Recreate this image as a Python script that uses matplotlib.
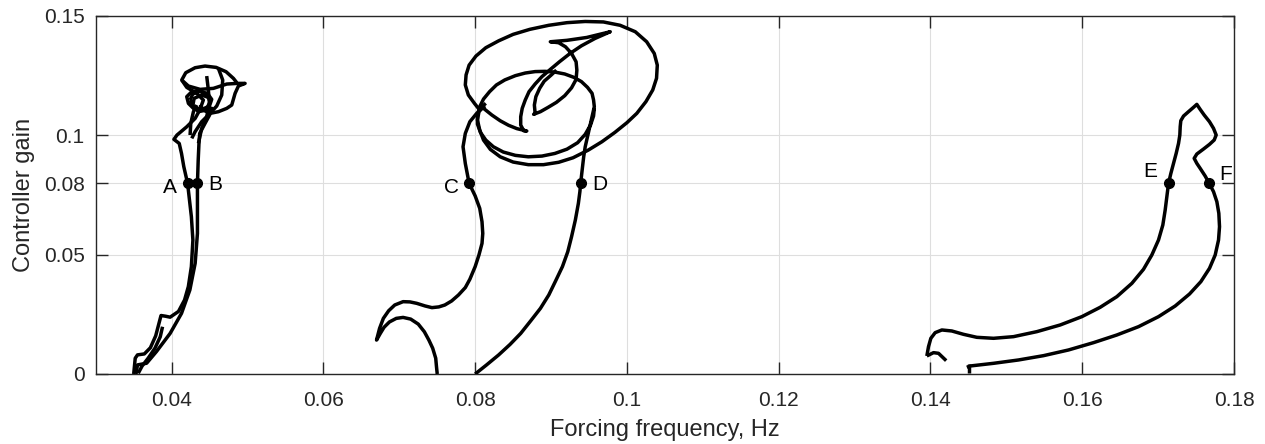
import numpy as np
import matplotlib
matplotlib.use("Agg")
import matplotlib.pyplot as plt

plt.rcParams['font.family'] = ['Liberation Sans', 'DejaVu Sans']

# stability boundary branches, (forcing frequency [Hz], controller gain)
# low-frequency branch through A and B
ab_left = [(0.0350, 0.0000), (0.0352, 0.0066), (0.0355, 0.0080), (0.0364, 0.0084),
           (0.0372, 0.0110), (0.0379, 0.0160), (0.0386, 0.0245), (0.0392, 0.0242),
           (0.0398, 0.0238), (0.0409, 0.0262), (0.0417, 0.0310), (0.0422, 0.0366),
           (0.0426, 0.0450), (0.0428, 0.0561), (0.0426, 0.0659), (0.0423, 0.0743),
           (0.0421, 0.0799), (0.0416, 0.0869), (0.0413, 0.0924), (0.0410, 0.0966),
           (0.0403, 0.0983), (0.0407, 0.1001), (0.0420, 0.1036), (0.0431, 0.1071),
           (0.0437, 0.1106), (0.04418, 0.11478), (0.04331, 0.11757), (0.04199, 0.12009),
           (0.04133, 0.12316), (0.04186, 0.12623), (0.04309, 0.12832), (0.04440, 0.12902),
           (0.04586, 0.12846), (0.04717, 0.12665), (0.04814, 0.12386), (0.04866, 0.12176),
           (0.04968, 0.12176), (0.04880, 0.12065), (0.04836, 0.11757), (0.04792, 0.11269),
           (0.04726, 0.11129), (0.04616, 0.10989), (0.04506, 0.10920), (0.04418, 0.11059),
           (0.04375, 0.11269)]
ab_right = [(0.0353, 0.0000), (0.0355, 0.0038), (0.0367, 0.0045), (0.0380, 0.0094),
            (0.0398, 0.0170), (0.0413, 0.0254), (0.0424, 0.0352), (0.0431, 0.0464),
            (0.0434, 0.0589), (0.0434, 0.0701), (0.0434, 0.0799), (0.0435, 0.0896),
            (0.0436, 0.0966), (0.0437, 0.1008), (0.0444, 0.1050), (0.0450, 0.1085),
            (0.0453, 0.1120)]
ab_spur = [(0.0356, 0.0003), (0.0361, 0.0033), (0.0369, 0.0066), (0.0378, 0.0108),
           (0.0385, 0.0156), (0.0388, 0.0198)]
ab_cap = [(0.04133, 0.12316), (0.04221, 0.12065), (0.04375, 0.11925), (0.04550, 0.11967),
          (0.04726, 0.12148), (0.04866, 0.12176)]
ab_curl = [(0.04309, 0.11059), (0.04221, 0.11338), (0.04199, 0.11618), (0.04265, 0.11827),
           (0.04375, 0.11869), (0.04471, 0.11688), (0.04506, 0.11408), (0.04454, 0.11059),
           (0.04353, 0.10989), (0.04278, 0.11227), (0.04296, 0.11548), (0.04396, 0.11688),
           (0.04484, 0.11590)]
ab_ring = [(0.04243, 0.11478), (0.04278, 0.11729), (0.04366, 0.11841), (0.04471, 0.11757),
           (0.04528, 0.11506), (0.04498, 0.11227), (0.04401, 0.11087), (0.04296, 0.11171),
           (0.04243, 0.11478)]
ab_stem = [(0.04462, 0.12483), (0.04484, 0.11897), (0.04498, 0.11338), (0.04462, 0.10780),
           (0.04396, 0.10291), (0.04353, 0.09663)]
ab_arc = [(0.04616, 0.12805), (0.04673, 0.12316), (0.04660, 0.11688), (0.04594, 0.11227),
          (0.04484, 0.10850), (0.04396, 0.10570), (0.04309, 0.10151), (0.04265, 0.09872)]
ab_tail = [(0.04243, 0.10012), (0.04252, 0.10501), (0.04287, 0.10989), (0.04331, 0.11269)]

# mid-frequency branch through C and D
cd_right = [(0.0800, 0.0000), (0.0815, 0.0038), (0.0831, 0.0080), (0.0846, 0.0124),
            (0.0860, 0.0170), (0.0873, 0.0222), (0.0886, 0.0275), (0.0897, 0.0331),
            (0.0906, 0.0390), (0.0915, 0.0450), (0.0922, 0.0512), (0.0927, 0.0575),
            (0.0932, 0.0645), (0.0936, 0.0715), (0.0938, 0.0764), (0.0939, 0.0799),
            (0.0941, 0.0855), (0.0943, 0.0910), (0.0945, 0.0952), (0.0948, 0.0994),
            (0.0951, 0.1036), (0.0954, 0.1078), (0.0957, 0.1120), (0.0956, 0.1148),
            (0.0954, 0.1176), (0.0948, 0.1201), (0.0940, 0.1225), (0.0930, 0.1243),
            (0.0918, 0.1257), (0.0905, 0.1265), (0.0892, 0.1268), (0.0879, 0.1267),
            (0.0866, 0.1261), (0.0853, 0.1250), (0.0839, 0.1232), (0.0828, 0.1211),
            (0.0819, 0.1183), (0.0811, 0.1152), (0.0806, 0.1120), (0.0803, 0.1085),
            (0.0803, 0.1047), (0.0807, 0.1012), (0.0814, 0.0980), (0.0824, 0.0952),
            (0.0837, 0.0930), (0.0853, 0.0916), (0.0870, 0.0910), (0.0888, 0.0913),
            (0.0905, 0.0924), (0.0921, 0.0942), (0.0935, 0.0969), (0.0945, 0.1004),
            (0.0952, 0.1043), (0.0956, 0.1081), (0.0957, 0.1113)]
cd_left = [(0.0750, 0.0000), (0.0749, 0.0031), (0.0748, 0.0066), (0.0744, 0.0108),
           (0.0739, 0.0142), (0.0733, 0.0177), (0.0725, 0.0209), (0.0715, 0.0230),
           (0.0705, 0.0237), (0.0696, 0.0233), (0.0687, 0.0218), (0.0680, 0.0196),
           (0.0675, 0.0170), (0.0670, 0.0142), (0.0674, 0.0191), (0.0679, 0.0233),
           (0.0686, 0.0265), (0.0694, 0.0289), (0.0705, 0.0303), (0.0714, 0.0302),
           (0.0723, 0.0296), (0.0734, 0.0285), (0.0743, 0.0278), (0.0752, 0.0281),
           (0.0760, 0.0289), (0.0769, 0.0306), (0.0778, 0.0331), (0.0787, 0.0362),
           (0.0793, 0.0397), (0.0800, 0.0450), (0.0805, 0.0499), (0.0809, 0.0547),
           (0.0810, 0.0589), (0.0809, 0.0638), (0.0806, 0.0694), (0.0800, 0.0746),
           (0.0792, 0.0799), (0.0787, 0.0882), (0.0784, 0.0952), (0.0787, 0.1008),
           (0.0793, 0.1057), (0.0802, 0.1092), (0.0813, 0.1123)]
cd_loop = [(0.0806, 0.1106), (0.0799, 0.1134), (0.0791, 0.1169), (0.0787, 0.1211),
           (0.0788, 0.1253), (0.0792, 0.1294), (0.0801, 0.1332), (0.0814, 0.1367),
           (0.0831, 0.1396), (0.0850, 0.1423), (0.0872, 0.1444), (0.0897, 0.1461),
           (0.0921, 0.1472), (0.0945, 0.1477), (0.0969, 0.1475), (0.0991, 0.1461),
           (0.1011, 0.1434), (0.1026, 0.1392), (0.1036, 0.1343), (0.1040, 0.1294),
           (0.1039, 0.1239), (0.1034, 0.1190), (0.1025, 0.1141), (0.1013, 0.1092),
           (0.1000, 0.1053), (0.0984, 0.1012), (0.0967, 0.0973), (0.0949, 0.0938),
           (0.0929, 0.0906), (0.0910, 0.0887), (0.0890, 0.0877), (0.0870, 0.0877),
           (0.0850, 0.0888), (0.0833, 0.0910), (0.0820, 0.0941), (0.0811, 0.0980),
           (0.0806, 0.1022), (0.0803, 0.1064), (0.0805, 0.1099), (0.0810, 0.1123),
           (0.0814, 0.1134)]
cd_inner = [(0.0811, 0.1113), (0.0822, 0.1085), (0.0833, 0.1061), (0.0844, 0.1042),
            (0.0855, 0.1028), (0.0868, 0.1018), (0.0864, 0.1019), (0.0860, 0.1043),
            (0.0860, 0.1078), (0.0862, 0.1113), (0.0866, 0.1148), (0.0871, 0.1183),
            (0.0879, 0.1215), (0.0888, 0.1246), (0.0899, 0.1276), (0.0911, 0.1308),
            (0.0925, 0.1343), (0.0940, 0.1375), (0.0958, 0.1406), (0.0978, 0.1434),
            (0.0947, 0.1410), (0.0921, 0.1398), (0.0899, 0.1392), (0.0910, 0.1388),
            (0.0919, 0.1371), (0.0927, 0.1343), (0.0933, 0.1308), (0.0934, 0.1273),
            (0.0933, 0.1234), (0.0927, 0.1199), (0.0918, 0.1166), (0.0907, 0.1138),
            (0.0896, 0.1117), (0.0886, 0.1099), (0.0877, 0.1088), (0.0879, 0.1092),
            (0.0878, 0.1127), (0.0880, 0.1162), (0.0885, 0.1197), (0.0891, 0.1227),
            (0.0900, 0.1252), (0.0907, 0.1273)]

# high-frequency branch through E and F
ef_main = [(0.13952, 0.00754), (0.13974, 0.01145), (0.14005, 0.01495), (0.14062, 0.01732),
           (0.14150, 0.01844), (0.14281, 0.01802), (0.14435, 0.01662), (0.14611, 0.01536),
           (0.14831, 0.01495), (0.15094, 0.01564), (0.15402, 0.01774), (0.15709, 0.02053),
           (0.15995, 0.02402), (0.16236, 0.02793), (0.16456, 0.03240), (0.16654, 0.03798),
           (0.16807, 0.04385), (0.16917, 0.04985), (0.17005, 0.05614), (0.17062, 0.06242),
           (0.17093, 0.06870), (0.17115, 0.07429), (0.17137, 0.07987), (0.17168, 0.08406),
           (0.17203, 0.08825), (0.17238, 0.09244), (0.17269, 0.09663), (0.17286, 0.10012),
           (0.17291, 0.10361), (0.17299, 0.10612), (0.17335, 0.10808), (0.17400, 0.10990),
           (0.17466, 0.11171), (0.17510, 0.11297), (0.17554, 0.11087), (0.17607, 0.10850),
           (0.17677, 0.10570), (0.17730, 0.10291), (0.17765, 0.10012), (0.17739, 0.09803),
           (0.17677, 0.09621), (0.17598, 0.09425), (0.17510, 0.09216), (0.17475, 0.09035),
           (0.17510, 0.08825), (0.17554, 0.08616), (0.17620, 0.08294), (0.17673, 0.07987),
           (0.17730, 0.07638), (0.17774, 0.07219), (0.17800, 0.06731), (0.17809, 0.06172),
           (0.17796, 0.05614), (0.17752, 0.04985), (0.17677, 0.04427), (0.17563, 0.03868),
           (0.17414, 0.03352), (0.17225, 0.02849), (0.17005, 0.02402), (0.16742, 0.01983),
           (0.16456, 0.01634), (0.16149, 0.01313), (0.15819, 0.01006), (0.15490, 0.00768),
           (0.15160, 0.00587), (0.14831, 0.00447), (0.14523, 0.00335), (0.14479, 0.00279)]
ef_hook = [(0.13952, 0.00754), (0.14040, 0.00894), (0.14106, 0.00866), (0.14207, 0.00559)]
ef_stub = [(0.14514, 0.00419), (0.14514, 0.00028)]

branches = [ab_left, ab_right, ab_spur, ab_cap, ab_curl, ab_ring, ab_stem, ab_arc, ab_tail,
            cd_right, cd_left, cd_loop, cd_inner, ef_main, ef_hook, ef_stub]

# labelled points on the K = 0.08 line
point_names = ['A', 'B', 'C', 'D', 'E', 'F']
point_freq = [0.0421, 0.0434, 0.0792, 0.0939, 0.1714, 0.1767]
point_gain = [0.08, 0.08, 0.08, 0.08, 0.08, 0.08]
label_offsets = {'A': (-13, -3), 'B': (13, -1), 'C': (-13, -3), 'D': (14, -1),
                 'E': (-13, 8), 'F': (12, 6)}

xticks = [0.04, 0.06, 0.08, 0.10, 0.12, 0.14, 0.16, 0.18]
xticklabels = ['0.04', '0.06', '0.08', '0.1', '0.12', '0.14', '0.16', '0.18']
yticks = [0, 0.05, 0.08, 0.1, 0.15]
yticklabels = ['0', '0.05', '0.08', '0.1', '0.15']

axcol = '#262626'

fig = plt.figure(figsize=(12.65, 4.44), dpi=100)
ax = fig.add_axes([0.0757, 0.1577, 0.8998, 0.8063])

for br in branches:
    f, k = zip(*br)
    ax.plot(f, k, color='k', lw=2.5, solid_joinstyle='round', solid_capstyle='butt',
            zorder=3)

ax.plot(point_freq, point_gain, 'o', color='k', ms=7, zorder=4)
for name, f, k in zip(point_names, point_freq, point_gain):
    ax.annotate(name, (f, k), xytext=label_offsets[name], textcoords='offset points',
                ha='center', va='center', fontsize=15, color='k')

ax.set_xlim(0.03, 0.18)
ax.set_ylim(0, 0.15)
ax.set_xticks(xticks)
ax.set_xticklabels(xticklabels)
ax.set_yticks(yticks)
ax.set_yticklabels(yticklabels)
ax.grid(True, color='#dedede', lw=0.8)
ax.set_axisbelow(True)
ax.tick_params(direction='in', length=8.5, width=1.0, colors=axcol, labelsize=15,
               top=True, right=True)
ax.tick_params(axis='x', pad=12)
ax.tick_params(axis='y', pad=8)
for sp in ax.spines.values():
    sp.set_color(axcol)
    sp.set_linewidth(1.0)

ax.set_xlabel('Forcing frequency, Hz', fontsize=17, color=axcol, labelpad=7)
ax.set_ylabel('Controller gain', fontsize=17, color=axcol, labelpad=6)

fig.savefig('out.png', dpi=100)
